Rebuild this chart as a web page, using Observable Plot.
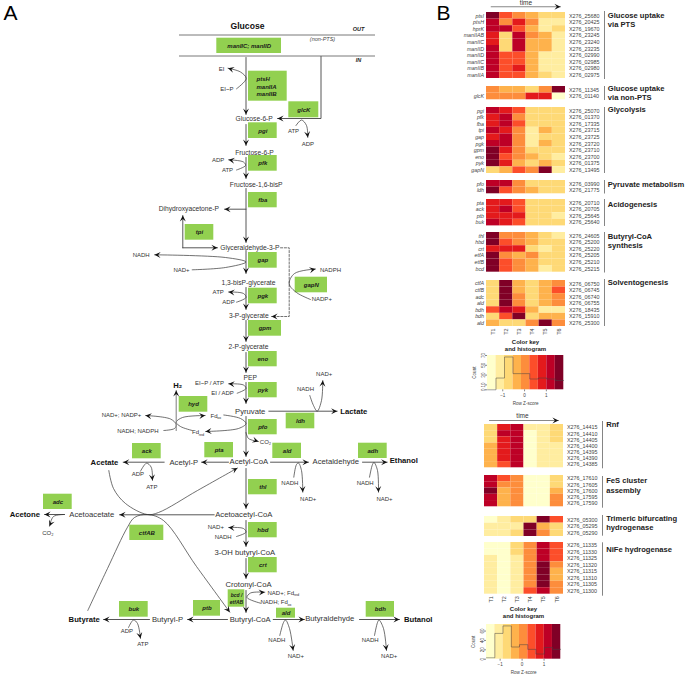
<!DOCTYPE html>
<html><head><meta charset="utf-8">
<script src="https://cdn.jsdelivr.net/npm/d3@7"></script>
<script src="https://cdn.jsdelivr.net/npm/@observablehq/plot@0.6"></script>
<style>
html,body{margin:0;padding:0;background:#fff;width:685px;height:675px;overflow:hidden}
#page{position:relative;width:685px;height:675px;font-family:"Liberation Sans",Arial,sans-serif}
#page svg{position:absolute;font-family:"Liberation Sans",Arial,sans-serif}
</style></head><body><div id="page"></div>
<script>
// ---------- heat-map data (colour-key bin 0..8) ----------
const times=["T1","T2","T3","T4","T5","T6"];
const palette=["#FFFFCC","#FFEDA0","#FED976","#FEB24C","#FD8D3C","#FC4E2A","#E31A1C","#BD0026","#800026"];

const ptsGenes=["ptsI","ptsH","hprK","manIIAB","manIIC","manIID","manIID","manIIC","manIIB","manIIA"];
const ptsIds=["X276_25680","X276_20425","X276_19670","X276_23245","X276_23240","X276_23235","X276_02990","X276_02985","X276_02980","X276_02975"];
const ptsLevels=[[8,5,4,3,2,2],[7,4,6,4,1,1],[7,7,5,3,1,2],[6,2,7,4,3,1],[6,2,7,3,3,1],[7,2,7,3,3,1],[7,5,5,3,1,1],[7,5,5,3,1,1],[7,5,6,3,1,1],[7,5,5,3,2,1]];

const nonGenes=["","glcK"];
const nonIds=["X276_11345","X276_01140"];
const nonLevels=[[4,3,3,2,4,8],[4,4,4,6,6,0]];

const glyGenes=["pgi","pfk","fba","tpi","gap","pgk","gpm","eno","pyk","gapN"];
const glyIds=["X276_25070","X276_01370","X276_17335","X276_23715","X276_23725","X276_23720","X276_23710","X276_23700","X276_01375","X276_13495"];
const glyLevels=[[7,6,5,2,2,2],[6,7,4,2,2,2],[6,7,5,2,2,2],[7,6,4,1,3,2],[6,7,4,1,2,2],[7,7,4,1,3,2],[8,6,4,2,2,2],[8,5,4,3,2,1],[8,6,3,2,3,2],[2,3,5,4,8,1]];

const pyrGenes=["pfo","ldh"];
const pyrIds=["X276_03990","X276_21775"];
const pyrLevels=[[7,7,4,2,2,2],[8,5,4,3,2,2]];

const aciGenes=["pta","ack","ptb","buk"];
const aciIds=["X276_20710","X276_20705","X276_25645","X276_25640"];
const aciLevels=[[6,6,5,2,2,2],[6,7,5,2,2,2],[6,6,6,2,2,1],[7,6,5,2,2,2]];

const butGenes=["thl","hbd","crt","etfA","etfB","bcd"];
const butIds=["X276_24605","X276_25200","X276_25220","X276_25205","X276_25210","X276_25215"];
const butLevels=[[8,4,4,3,2,1],[8,5,4,3,2,2],[6,6,6,2,1,2],[8,4,3,4,2,2],[8,5,4,3,2,2],[8,5,4,3,1,2]];

const solGenes=["ctfA","ctfB","adc","ald","bdh","bdh","ald"];
const solIds=["X276_06750","X276_06745","X276_06740","X276_06755","X276_18435","X276_15910","X276_25300"];
const solLevels=[[2,8,3,2,3,4],[2,8,3,2,3,5],[2,8,4,2,3,4],[2,8,4,2,3,4],[5,7,6,3,1,1],[2,5,8,2,3,3],[3,2,2,4,8,4]];

const rnfIds=["X276_14415","X276_14410","X276_14405","X276_14400","X276_14395","X276_14390","X276_14385"];
const rnfLevels=[[2,6,7,1,1,2],[2,7,7,0,1,2],[2,6,7,0,1,2],[3,6,7,0,1,1],[3,6,7,0,1,1],[3,6,7,0,1,1],[3,5,7,0,1,1]];

const fesIds=["X276_17610","X276_17605","X276_17600","X276_17595","X276_17590"];
const fesLevels=[[7,5,4,0,0,2],[7,4,4,0,0,2],[8,3,4,0,0,3],[7,3,4,0,0,4],[7,3,4,0,0,4]];

const triIds=["X276_05300","X276_05295","X276_05290"];
const triLevels=[[0,1,2,2,8,5],[1,1,1,8,3,2],[1,1,2,8,4,2]];

const nifIds=["X276_11335","X276_11330","X276_11325","X276_11320","X276_11315","X276_11310","X276_11305","X276_11300"];
const nifLevels=[[0,0,2,4,7,5],[0,0,2,4,7,5],[1,0,1,4,7,5],[1,0,1,4,8,4],[1,0,1,4,8,3],[1,0,1,4,8,3],[1,0,1,4,8,4],[1,0,1,5,7,4]];

// colour keys: bin edges in Z-score and histogram counts
const key1Edges=[-1.70,-1.31,-0.92,-0.53,-0.14,0.24,0.63,1.02,1.41,1.80];
const key1Counts=[0,24,67,33,33,22,24,22,19];
const key2Edges=[-1.62,-1.24,-0.87,-0.49,-0.12,0.26,0.63,1.01,1.38,1.76];
const key2Counts=[3,55,71,26,31,21,11,25,21];

// ---------- pathway diagram, in figure units ----------
const boxes=[["manIIC; manIID",216.3,37.7,281,53],["ptsH\nmanIIA\nmanIIB",248,70.7,286.7,100.7],["glcK",288.3,101.3,318.3,117.3],
["pgi",248,122.3,276.7,138],["pfk",248,155,276.7,170.7],["fba",248,192,276.7,207.3],["tpi",184.7,224,213.3,239.7],
["gap",248,252,276.7,267.7],["pgk",248,287.7,276.7,303.3],["gapN",294.7,276.7,327,292.3],["gpm",248,320,281,335.7],
["eno",248,351,276.7,366.3],["pyk",248,382,276.7,397.3],["hyd",178.7,396,207.3,411.7],["ldh",285.7,412.7,314.3,428.3],
["pfo",248,419,276.7,434.3],["ack",132,443,160.7,458.3],["pta",204.3,442,233,457.3],["ald",272.3,442.7,301,458],
["adh",358,442.7,386.7,458],["thl",248,479,276.7,494.3],["adc",43,493.7,71.7,509],["hbd",248,522,276.7,537.3],
["ctfAB",129.3,524.7,163.3,540],["crt",248,557,276.7,572.3],["bcd /\netfAB",227.7,589.3,244.3,606.7],
["buk",119,601,147.7,616.7],["ptb",193,600,220,615.7],["ald",276,607.7,295,617.7],["bdh",365.7,601,394,616.7]];

const metaboliteSmall=[["Glucose-6-P",253.7,118.7],["Fructose-6-P",254,152],["Fructose-1,6-bisP",255.7,184],["Dihydroxyacetone-P",188.3,208.7],
["Glyceraldehyde-3-P",249.3,247.3],["1,3-bisP-glycerate",248,282.7],["3-P-glycerate",248.3,315],["2-P-glycerate",248,346.7],["PEP",249.7,377]];
const metaboliteLarge=[["Pyruvate",249.7,410.7],["Acetyl-P",183.3,462],["Acetyl-CoA",248.3,461],["Acetaldehyde",335.3,461],["Acetoacetate",91.3,514.3],
["Acetoacetyl-CoA",243.3,514],["3-OH butyryl-CoA",244.3,552],["Crotonyl-CoA",248,584.3],["Butyryl-P",167,619],["Butyryl-CoA",249.7,618.7],["Butyraldehyde",329.3,618]];
const products=[["H₂",177.3,385],["Lactate",353.3,411],["Acetate",104,462.3],["Ethanol",403.3,460.3],["Acetone",24.3,514],["Butyrate",83.7,619.3],["Butanol",417.7,619]];
const cofactors=[["EI",221,68.3],["EI~P",226.3,88.7],["ATP",293,130.7],["ADP",307.3,143.3],["ADP",217.7,159.3],["ATP",227,169.7],
["NADH",140.7,254.7],["NAD+",181,269.3],["ATP",217.7,292],["ADP",228,302],["NADPH",330,270],["NADP+",321.3,299],
["EI~P / ATP",209,383],["EI / ADP",222,393],["NADH",305,389],["NAD+",323.7,373.7],["NAD+; NADP+",121,415],["NADH; NADPH",137.3,430.3],
["CO₂",265,441.3],["ADP",137.3,474],["ATP",151.3,486.7],["NADH",289.3,482.3],["NAD+",307.7,498.7],["NADH",364.7,482.3],["NAD+",384,498.7],
["CO₂",47.3,533],["NAD+",215.3,527],["NADH",222.7,537],["ADP",126.3,631],["ATP",142.3,643.7],["NADH",276.3,640],["NAD+",295.3,656],["NADH",369.7,640],["NAD+",388.7,656]];
// label, sub-label, x of the label's start, y, x of the sub-label's start
const subscripted=[["Fd","ox",210,415.3,216.7],["Fd","red",191.5,432,198.2],["NAD+; Fd","red",267,592.3,293.2],["NADH; Fd","ox",260,602,287]];

const straights=[[[245.5,57],[245.5,114]],[[320.5,56],[320.5,118],[277,118]],[[245.5,124],[245.5,145]],[[245.5,157],[245.5,178]],[[245.5,188],[245.5,242]],
[[245.5,208.7],[224,208.7]],[[182.3,247.3],[182.3,215]],[[182.3,247.3],[217,247.3]],[[245.5,250],[245.5,273]],[[245.5,287],[245.5,309]],
[[245.5,320],[245.5,341]],[[245.5,352],[245.5,372]],[[245.5,382],[245.5,403]],[[268.3,410.7],[336.7,410.7]],[[245.5,416],[245.5,456]],
[[228,461.7],[201,461.7]],[[163.7,461.7],[122.7,461.7]],[[270,461.7],[308,461.7]],[[362,461.7],[386.7,461.7]],[[245.5,468],[245.5,508]],
[[213.7,514.3],[119,514.3]],[[64,514],[44,514]],[[245.5,520],[245.5,546]],[[245.5,558],[245.5,578]],[[245.5,590],[245.5,612]],
[[227,619],[187,619]],[[149,619],[103,619]],[[272.7,619],[304,619]],[[359,619],[399,619]]];
const curves=[[[236,88.3],[245.7,78],[240,71.5],[227.5,67.7]],[[295.5,125],[301,119.5],[306,125],[307.3,137]],[[236,169.5],[245,165],[243,161.5],[228,159.3]],
[[191.7,269.3],[225,267],[245.5,261.5],[225,257],[154,254.3]],[[236,301.7],[245.5,297],[243,293],[228,291.5]],[[236.7,392.7],[245.5,388],[243,384.5],[228,383.3]],
[[310,299],[296,292],[288.7,283.3],[294,273],[315,268.5]],[[309.3,395],[313,405],[316.7,410.7],[321,400],[322.3,380]],
[[163.3,430],[174,428],[175.7,424],[170,418.5],[145,415]],[[223.3,414.5],[240,418],[245.5,423],[238,428],[205,431]],[[191.7,430],[180,426],[175.7,421.7],[182,417],[204.7,415]],
[[245.5,432],[248,438],[258,441]],[[140,470.7],[146,462.7],[150.7,466.7],[152,480]],[[293.3,476.7],[296,464],[298,462.5],[301,470],[302.3,491.7]],
[[369,476.7],[372,464],[373.5,462],[377,470],[378,491.7]],[[64,514],[53,516],[49,525.7]],[[236,536],[245.5,531.7],[243,528],[228,527]],
[[260,602.7],[246.5,597],[250,592.5],[264.3,591.7]],[[128,627],[133,619.5],[137,623],[140,638]],[[279.3,635],[283,622],[285,619.5],[289,628],[292.7,650]],
[[374,635],[377,622],[378.5,619.5],[383,628],[386,650]],
[[108.3,470],[113,488],[125,503],[146.7,514],[158,512],[197,490],[237,467.5]],
[[87.3,610],[107,568],[127,526.7],[134,517],[146.7,514],[163,520],[196,566],[229.3,611.7]]];
const dashed=[[[280,247.3],[288.7,247.3],[288.7,316],[271,316]]];
const greyArrows=[[[175.7,430],[175.7,390]],[[490.7,6.3],[560,6.3]],[[489,420],[558,420]]];

const membranes=[[179,375,34.5],[179,375,55.5]];
const compartments=[["OUT",358,29],["IN",358,60]];
const panelLetters=[["A",10,13],["B",443,13]];
const groupRules=[[604,11,79],[604,86,100],[604,107,173],[604,180,193.5],[604,199,226],[604,232,272.5],[604,279,326],
[602,421,468.3],[602,476,507.7],[602,515,535.7],[602,542.3,595.7]];
const groupTitles=[["Glucose uptake",607.3,15.3],["via PTS",607.3,24.3],["Glucose uptake",607.3,88],["via non-PTS",607.3,97],["Glycolysis",607.3,109.3],
["Pyruvate metabolism",607.3,184],["Acidogenesis",607.3,204],["Butyryl-CoA",607.3,235.7],["synthesis",607.3,245],["Solventogenesis",607.3,282.3],
["Rnf",605.7,424],["FeS cluster",605.7,480],["assembly",605.7,489.7],["Trimeric bifurcating",605.7,518],["hydrogenase",605.7,527.3],["NiFe hydrogenase",605.7,549.3]];
const keyTitles=[["Color key",525,341.7],["and histogram",525,349],["Color key",523,608.7],["and histogram",523,616]];
const timeLabels=[["time",525.5,2.9],["time",522,415.7]];

// ---------- helpers ----------
const font="Liberation Sans";
const txt=(rows,o)=>Plot.text(rows,{x:d=>d[1],y:d=>d[2],text:d=>d[0],fontFamily:font,...o});
const flat=list=>list.flatMap((pts,id)=>pts.map(p=>({id,x:p[0],y:p[1]})));
const stealth={draw(c,l,r){c.moveTo(0,-l);c.lineTo(r,0.6);c.lineTo(0,-l*0.35);c.lineTo(-r,0.6);c.closePath();}};
const heads=list=>list.map(pts=>{const a=pts[pts.length-2],b=pts[pts.length-1];
  return {x:b[0],y:b[1],r:Math.atan2(b[0]-a[0],-(b[1]-a[1]))*180/Math.PI};});
const arrowHeads=list=>Plot.vector(heads(list),{x:"x",y:"y",rotate:"r",length:5.5,r:3,anchor:"end",shape:stealth,fill:"#111",stroke:"none"});
const ink="#333";

// ---------- the pathway and every panel label, one plot on figure units ----------
const base=Plot.plot({width:685,height:675,margin:0,
  x:{domain:[0,685],range:[0,685],axis:null},y:{domain:[0,675],range:[0,675],axis:null},
  style:{background:"transparent"},
  marks:[
    Plot.ruleY(membranes,{x1:d=>d[0],x2:d=>d[1],y:d=>d[2],stroke:"#555",strokeWidth:0.8}),
    Plot.rect(boxes,{x1:d=>d[1],y1:d=>d[2],x2:d=>d[3],y2:d=>d[4],fill:"#92D050"}),
    Plot.line(flat(straights),{x:"x",y:"y",z:"id",stroke:"#444",strokeWidth:0.9}),
    Plot.line(flat(curves),{x:"x",y:"y",z:"id",curve:"catmull-rom",stroke:"#333",strokeWidth:0.7}),
    Plot.line(flat(dashed),{x:"x",y:"y",z:"id",stroke:"#333",strokeWidth:0.7,strokeDasharray:"2.2,1.6"}),
    Plot.line(flat(greyArrows),{x:"x",y:"y",z:"id",stroke:"#888",strokeWidth:1.1}),
    arrowHeads(straights),arrowHeads(curves),arrowHeads(dashed),arrowHeads(greyArrows),
    txt(boxes.filter(b=>!b[0].includes("\n")),{x:d=>(d[1]+d[3])/2,y:d=>(d[2]+d[4])/2,fontSize:6,fontWeight:"bold",fontStyle:"italic",fill:"#1a1a1a"}),
    txt(boxes.filter(b=>b[0].startsWith("pts")),{x:d=>d[1]+8,y:d=>(d[2]+d[4])/2,fontSize:6,fontWeight:"bold",fontStyle:"italic",fill:"#1a1a1a",textAnchor:"start",lineHeight:1.25}),
    txt(boxes.filter(b=>b[0].startsWith("bcd")),{x:d=>(d[1]+d[3])/2,y:d=>(d[2]+d[4])/2,fontSize:5,fontWeight:"bold",fontStyle:"italic",fill:"#1a1a1a",lineHeight:1.3}),
    txt(metaboliteSmall,{fontSize:6.7,fill:ink}),
    txt(metaboliteLarge,{fontSize:7.7,fill:ink}),
    txt(products,{fontSize:7.7,fontWeight:"bold",fill:"#111"}),
    txt(cofactors,{fontSize:6,fill:ink}),
    txt(subscripted,{x:d=>d[2],y:d=>d[3],fontSize:6,fill:ink,textAnchor:"start"}),
    Plot.text(subscripted,{x:d=>d[4],y:d=>d[3]+1.8,text:d=>d[1],fontFamily:font,fontSize:3.8,fill:ink,textAnchor:"start"}),
    txt([["Glucose",247,26]],{fontSize:8.6,fontWeight:"bold",fill:"#111"}),
    txt(compartments,{fontSize:5.5,fontWeight:"bold",fontStyle:"italic",fill:"#222"}),
    txt([["(non-PTS)",322,39]],{fontSize:5.5,fontStyle:"italic",fill:"#444"}),
    txt(panelLetters,{fontSize:21,fill:"#000"}),
    Plot.ruleX(groupRules,{x:d=>d[0],y1:d=>d[1],y2:d=>d[2],stroke:"#777",strokeWidth:0.9}),
    txt(groupTitles,{fontSize:7.6,fontWeight:"bold",fill:"#222",textAnchor:"start"}),
    txt(keyTitles,{fontSize:6,fontWeight:"bold",fill:"#222"}),
    txt(timeLabels,{fontSize:6.5,fill:"#333"})
  ]});
const page=document.getElementById("page");
page.appendChild(base);

// ---------- heat maps, one plot per gene group ----------
function heat(genes,ids,levels,left,top,right,bottom,withTimes){
  const mL=genes?30:0, mR=40, mB=withTimes?12:0;
  const rows=levels.flatMap((r,i)=>r.map((v,j)=>({id:ids[i],t:times[j],v})));
  const names=new Map(ids.map((d,i)=>[d,genes?genes[i]:""]));
  const marks=[
    Plot.cell(rows,{x:"t",y:"id",fill:"v"}),
    Plot.axisY({anchor:"right",tickSize:0,tickPadding:3.5,fontSize:5.4,label:null,fill:"#444",fontFamily:font})
  ];
  if(genes) marks.push(Plot.axisY({anchor:"left",tickSize:0,tickPadding:2.5,fontSize:5.3,fontStyle:"italic",label:null,tickFormat:d=>names.get(d),fill:"#444",fontFamily:font}));
  if(withTimes) marks.push(Plot.axisX({tickSize:0,tickPadding:2,tickRotate:-90,fontSize:5.4,label:null,fill:"#444",fontFamily:font}));
  const p=Plot.plot({width:mL+(right-left)+mR,height:(bottom-top)+mB,marginLeft:mL,marginRight:mR,marginTop:0,marginBottom:mB,
    x:{domain:times,padding:0,round:false,axis:null},y:{domain:ids,padding:0,round:false,axis:null},
    color:{type:"ordinal",domain:d3.range(9),range:palette},
    style:{background:"transparent",overflow:"visible"},marks});
  p.style.left=(left-mL)+"px";p.style.top=top+"px";
  page.appendChild(p);
}
heat(ptsGenes,ptsIds,ptsLevels,486,12,565,78);
heat(nonGenes,nonIds,nonLevels,486,86,565,99.3);
heat(glyGenes,glyIds,glyLevels,486,106.7,565,172.7);
heat(pyrGenes,pyrIds,pyrLevels,486,179.7,565,193);
heat(aciGenes,aciIds,aciLevels,486,199.3,565,225.7);
heat(butGenes,butIds,butLevels,486,232.3,565,272);
heat(solGenes,solIds,solLevels,486,279.7,565,325.7,true);
heat(null,rnfIds,rnfLevels,484.3,424,563.3,467.3);
heat(null,fesIds,fesLevels,484.3,475,563.3,506.3);
heat(null,triIds,triLevels,484.3,515.7,563.3,535.7);
heat(null,nifIds,nifLevels,484.3,542.3,563.3,594,true);

// ---------- colour keys with histogram ----------
function key(edges,counts,ticks,yMax,left,top,right,bottom){
  const mL=20,mB=17,mT=1,mR=2;
  const bins=counts.map((c,i)=>({a:edges[i],b:edges[i+1],i}));
  const steps=counts.map((c,i)=>({z:edges[i],c})).concat([{z:edges[9],c:counts[8]}]);
  const p=Plot.plot({width:mL+(right-left)+mR,height:(bottom-top)+mB+mT,marginLeft:mL,marginRight:mR,marginTop:mT,marginBottom:mB,
    x:{domain:[edges[0],edges[9]],axis:null},y:{domain:[0,yMax],axis:null},
    color:{type:"ordinal",domain:d3.range(9),range:palette},
    style:{background:"transparent",overflow:"visible"},
    marks:[
      Plot.rect(bins,{x1:"a",x2:"b",y1:()=>0,y2:()=>yMax,fill:"i"}),
      Plot.line(steps,{x:"z",y:"c",curve:"step-after",stroke:"#444",strokeWidth:0.7,strokeOpacity:0.7}),
      Plot.axisY({ticks,tickFormat:"d",tickSize:2,tickPadding:1,tickRotate:-90,fontSize:4.6,stroke:"#888",fill:"#444",fontFamily:font,label:"Count",labelAnchor:"center",labelArrow:"none",labelOffset:15,textAnchor:"middle"}),
      Plot.axisX({ticks:[-1,0,1],tickFormat:"d",tickSize:2,tickPadding:1.5,fontSize:4.6,stroke:"#888",fill:"#444",fontFamily:font,label:"Row Z-score",labelAnchor:"center",labelArrow:"none",labelOffset:15})
    ]});
  p.style.left=(left-mL)+"px";p.style.top=(top-mT)+"px";
  page.appendChild(p);
}
key(key1Edges,key1Counts,[0,10,30,50,70],70,486.7,355,563,389.3);
key(key2Edges,key2Counts,[0,20,40,60],74,486,624.3,560.3,659);
</script></body></html>
